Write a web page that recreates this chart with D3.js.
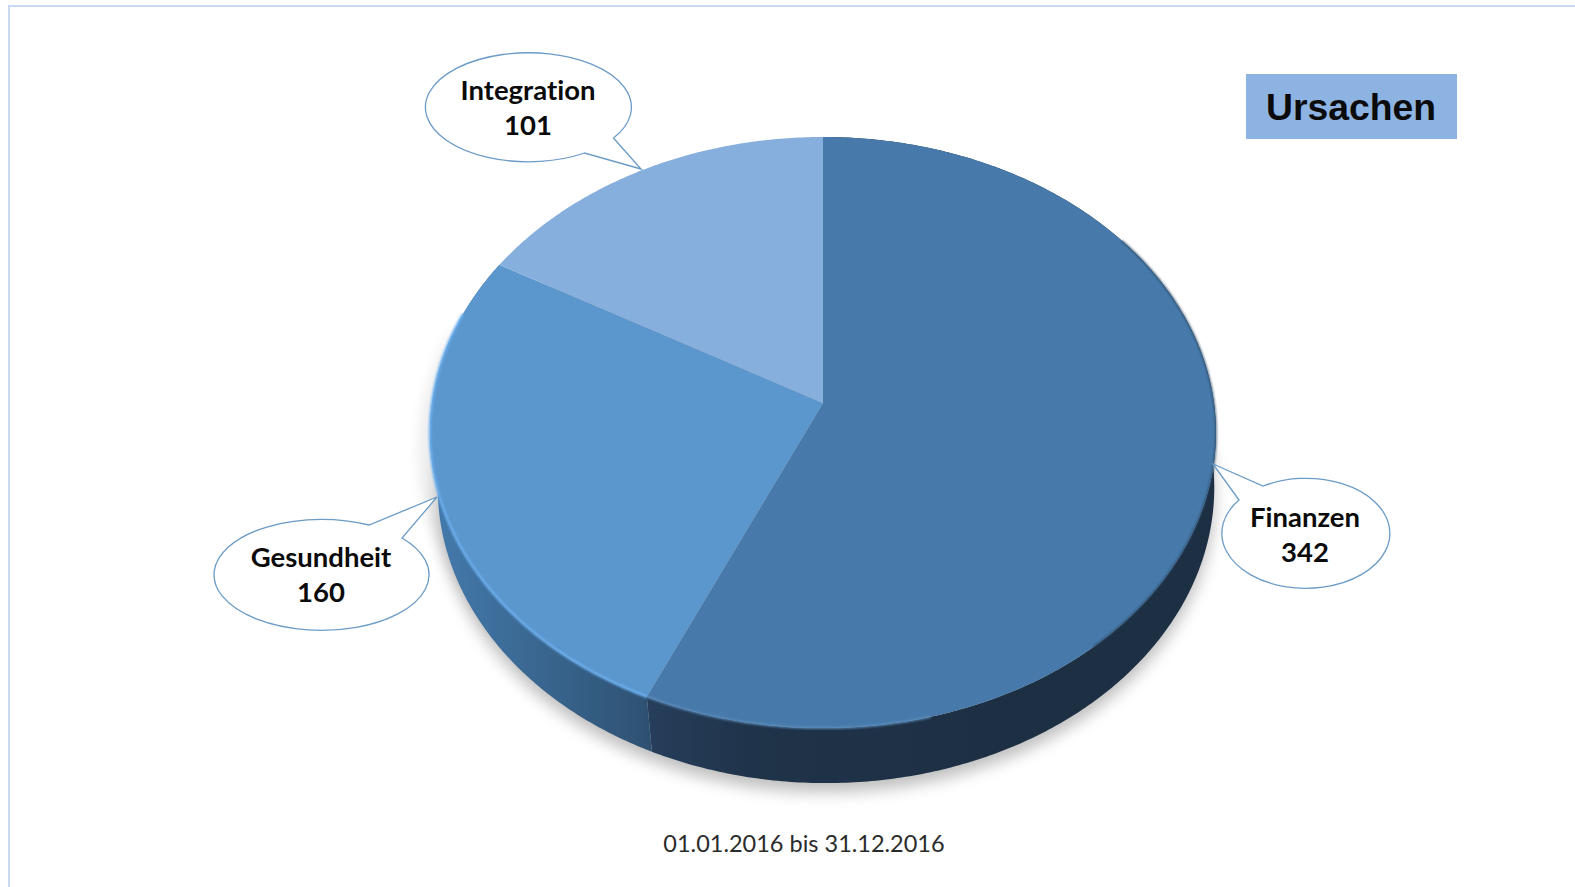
<!DOCTYPE html>
<html>
<head>
<meta charset="utf-8">
<script src="https://cdn.jsdelivr.net/npm/d3@7"></script>
<style>
  html, body { margin: 0; padding: 0; background: #fff; overflow: hidden; }
</style>
</head>
<body>
<div class="chart"></div>
<script>
// chart data
const categories = ["Finanzen", "Gesundheit", "Integration"];
const values = [342, 160, 101];
const faceColors = ["#477aaa", "#5b96cd", "#86afdd"];
const title = "Ursachen";
const period = "01.01.2016 bis 31.12.2016";

const w = 1575, h = 887;

// the tilted disc: apex of the slices sits above the middle of the ellipse
const apex = { x: 823, y: 403 };
const tilt = 0.1;      // perspective strength
const radiusX = 391, radiusY = 292.6;
const thickness = 55;

const xScale = d3.scaleLinear().domain([-1, 1]).range([apex.x - radiusX, apex.x + radiusX]);
const yScale = d3.scaleLinear().domain([-1, 1]).range([apex.y - radiusY, apex.y + radiusY]);

// angle (radians, clockwise from top) -> screen point, depth 0 = top face, 1 = underside
function project(angle, depth) {
    const cx = Math.sin(angle), cy = -Math.cos(angle);
    const d = 1 - tilt * cy;
    const shrink = 1 - 0.012 * depth;
    const x = xScale(cx / d * shrink) + 3 * depth;
    const y = yScale(cy / d) + thickness * depth;
    return [x, y];
}

function rimPoints(a0, a1, depth) {
    const n = Math.max(2, Math.ceil(Math.abs(a1 - a0) / 0.01));
    return d3.range(n + 1).map(i => project(a0 + (a1 - a0) * i / n, depth));
}

const line = d3.line().curve(d3.curveLinear);

const arcs = d3.pie().sort(null)(values);

const svg = d3.select("div.chart")
    .append("svg")
    .attr("width", w)
    .attr("height", h)
    .style("display", "block");

const defs = svg.append("defs");

defs.append("filter")
    .attr("id", "shadowBlur")
    .attr("x", "-10%").attr("y", "-10%").attr("width", "120%").attr("height", "120%")
    .append("feGaussianBlur")
    .attr("stdDeviation", 8);

defs.append("filter")
    .attr("id", "edgeBlur")
    .attr("x", "-5%").attr("y", "-5%").attr("width", "110%").attr("height", "110%")
    .append("feGaussianBlur")
    .attr("stdDeviation", 0.8);

// index follows the slices: Finanzen first, Gesundheit second
const wallStops = [
    [["0%", "#263e5b"], ["30%", "#1f3349"], ["100%", "#1d2f43"]],
    [["0%", "#447bad"], ["100%", "#2e5172"]]
];
const wallSpans = [[650, 1000], [430, 650]];

wallStops.forEach((stops, i) => {
    const g = defs.append("linearGradient")
        .attr("id", "wall" + i)
        .attr("gradientUnits", "userSpaceOnUse")
        .attr("x1", wallSpans[i][0]).attr("x2", wallSpans[i][1])
        .attr("y1", 0).attr("y2", 0);
    stops.forEach(s => g.append("stop").attr("offset", s[0]).attr("stop-color", s[1]));
});

// frame at the top and left of the picture
svg.append("path")
    .attr("d", "M9," + h + "V6H" + w)
    .attr("fill", "none")
    .attr("stroke", "#c9daf2")
    .attr("stroke-width", 2);

// soft shadow below the disc
svg.append("path")
    .attr("d", line(rimPoints(0, 2 * Math.PI, 1).map(p => [p[0], p[1] + 9])) + "Z")
    .attr("fill", "#000")
    .attr("opacity", 0.26)
    .attr("filter", "url(#shadowBlur)");

svg.append("path")
    .attr("d", line(rimPoints(Math.PI * 1.1, Math.PI * 1.6, 0).map(p => [p[0] - 3, p[1] + 20])))
    .attr("fill", "none")
    .attr("stroke", "#000")
    .attr("stroke-width", 8)
    .attr("opacity", 0.16)
    .attr("filter", "url(#shadowBlur)");

// side walls: only the two front slices can be seen
arcs.slice(0, 2).forEach((a, i) => {
    const pts = rimPoints(a.startAngle, a.endAngle, 0)
        .concat(rimPoints(a.endAngle, a.startAngle, 1));
    svg.append("path")
        .attr("d", line(pts) + "Z")
        .attr("fill", "url(#wall" + i + ")");
});

// top faces
arcs.forEach((a, i) => {
    const pts = [[apex.x, apex.y]].concat(rimPoints(a.startAngle, a.endAngle, 0));
    svg.append("path")
        .attr("class", "slice")
        .attr("d", line(pts) + "Z")
        .attr("fill", faceColors[i]);
});

// bevel along the rim
const gesundheit = arcs[1];
svg.append("path")
    .attr("d", line(rimPoints(gesundheit.startAngle, gesundheit.endAngle - 0.2, 0)))
    .attr("fill", "none")
    .attr("stroke", "#6cb0f0")
    .attr("stroke-width", 2.5)
    .attr("filter", "url(#edgeBlur)");

svg.append("path")
    .attr("d", line(rimPoints(Math.PI * 0.92, arcs[0].endAngle, 0)))
    .attr("fill", "none")
    .attr("stroke", "#5b8dbd")
    .attr("stroke-width", 2)
    .attr("filter", "url(#edgeBlur)");

svg.append("path")
    .attr("d", line(rimPoints(0.3 * Math.PI, Math.PI * 0.78, 0)))
    .attr("fill", "none")
    .attr("stroke", "#2a4560")
    .attr("stroke-width", 1.4)
    .attr("filter", "url(#edgeBlur)");

// callouts
const calloutLayout = [
    { rx: 84, ry: 55, tip: [1213, 464], b0: [1263, 486], b1: [1239, 500], tx: 1305, ty: 527 },
    { rx: 107.5, ry: 55.5, tip: [437, 497], b0: [402, 538], b1: [369, 525], tx: 321, ty: 567 },
    { rx: 103, ry: 54.5, tip: [641, 169], b0: [584.5, 153], b1: [613.5, 138], tx: 528, ty: 100 }
];

calloutLayout.forEach((c, i) => {
    const d = "M" + c.tip + "L" + c.b0 +
        "A" + c.rx + "," + c.ry + " 0 1 1 " + c.b1 + "Z";
    svg.append("path")
        .attr("d", d)
        .attr("fill", "#fff")
        .attr("stroke", "#6b9bc6")
        .attr("stroke-width", 1.3);

    const t = svg.append("text")
        .attr("text-anchor", "middle")
        .attr("font-family", "Lato, 'Noto Sans', sans-serif")
        .attr("font-weight", 700)
        .attr("font-size", 27.5)
        .style("font-variant-ligatures", "none")
        .attr("fill", "#0b0b0b");
    t.append("tspan").attr("x", c.tx).attr("y", c.ty).text(categories[i]);
    t.append("tspan").attr("x", c.tx).attr("y", c.ty + 35).text(values[i]);
});

// title box
svg.append("rect")
    .attr("x", 1246).attr("y", 74)
    .attr("width", 211).attr("height", 65)
    .attr("fill", "#8db3e2");

svg.append("text")
    .attr("x", 1351).attr("y", 120)
    .attr("text-anchor", "middle")
    .attr("font-family", "'Liberation Sans', Arial, sans-serif")
    .attr("font-weight", 700)
    .attr("font-size", 37.3)
    .attr("fill", "#0b0b0b")
    .text(title);

// period below the chart
svg.append("text")
    .attr("x", 804).attr("y", 852)
    .attr("text-anchor", "middle")
    .attr("font-family", "Lato, 'Noto Sans', sans-serif")
    .attr("font-size", 23.5)
    .attr("fill", "#2b2b2b")
    .text(period);
</script>
</body>
</html>
